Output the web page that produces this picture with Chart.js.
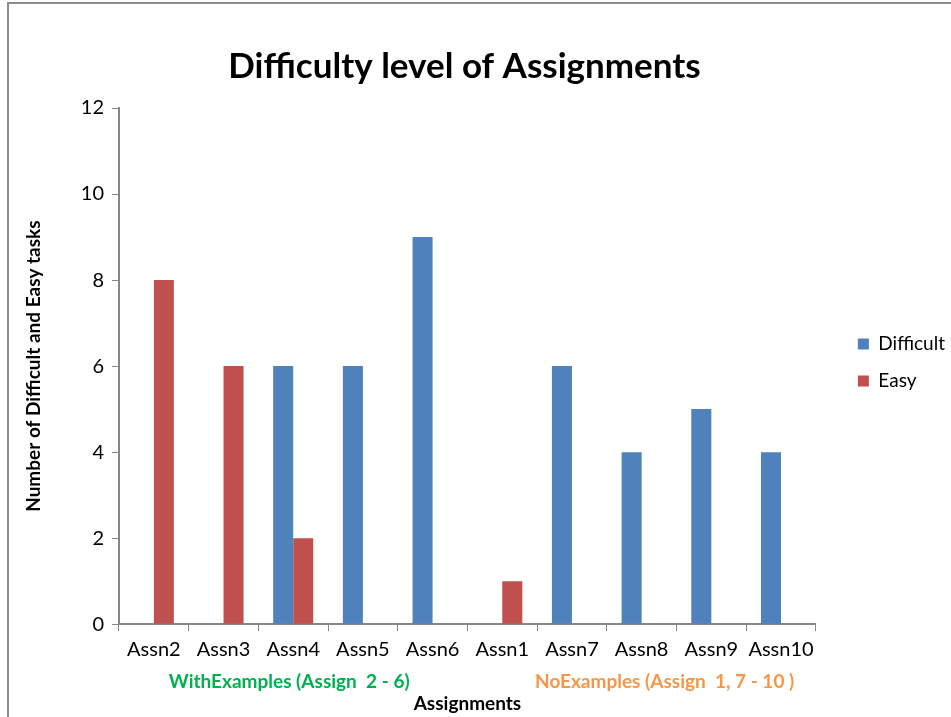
<!DOCTYPE html>
<html>
<head>
<meta charset="utf-8">
<script src="https://cdn.jsdelivr.net/npm/chart.js@4.4.0/dist/chart.umd.min.js"></script>
<style>
  body { margin: 0; background: #fff; }
  canvas { display: block; }
</style>
</head>
<body>
<canvas id="myChart" width="951" height="717"></canvas>
<script>
const categorias = ['Assn2', 'Assn3', 'Assn4', 'Assn5', 'Assn6', 'Assn1', 'Assn7', 'Assn8', 'Assn9', 'Assn10'];
const dificiles = [0, 0, 6, 6, 9, 0, 6, 4, 5, 4];
const faciles = [8, 6, 2, 0, 0, 1, 0, 0, 0, 0];
const ticksY = [0, 2, 4, 6, 8, 10, 12];
const grupos = [
  { texto: 'WithExamples (Assign  2 - 6)', desde: 0, hasta: 4, color: '#00b050', dx: -4 },
  { texto: 'NoExamples (Assign  1, 7 - 10 )', desde: 5, hasta: 9, color: '#f79646', dx: 23 }
];

const fuente = "Lato, 'Open Sans', sans-serif";
const gris = '#868686';

// marco, leyenda y titulo algo desplazados, etiquetas de grupo
const extras = {
  id: 'extras',
  afterLayout(chart) {
    chart.legend.left += 24;
    chart.legend.right += 24;
    chart.legend.top += 5;
    chart.legend.bottom += 5;
    chart.titleBlock.left -= 12;
    chart.titleBlock.right -= 12;
  },
  afterDraw(chart) {
    const ctx = chart.ctx;
    const x = chart.scales.x;
    const area = chart.chartArea;
    ctx.save();
    ctx.strokeStyle = '#8c8c8c';
    ctx.lineWidth = 2;
    ctx.beginPath();
    ctx.moveTo(951, 3);
    ctx.lineTo(8, 3);
    ctx.lineTo(8, 717);
    ctx.stroke();
    ctx.font = 'bold 19px ' + fuente;
    ctx.textAlign = 'center';
    ctx.textBaseline = 'middle';
    grupos.forEach(g => {
      const cx = (x.getPixelForValue(g.desde) + x.getPixelForValue(g.hasta)) / 2 + g.dx;
      ctx.fillStyle = g.color;
      ctx.fillText(g.texto, cx, area.bottom + 58);
    });
    ctx.restore();
  }
};

new Chart(document.getElementById('myChart'), {
  type: 'bar',
  data: {
    labels: categorias,
    datasets: [
      { label: 'Difficult', data: dificiles, backgroundColor: '#4f81bd' },
      { label: 'Easy', data: faciles, backgroundColor: '#c0504d' }
    ]
  },
  options: {
    responsive: false,
    animation: false,
    datasets: { bar: { categoryPercentage: 0.575, barPercentage: 1 } },
    layout: { padding: { left: 22, right: 20, top: 0, bottom: 2 } },
    plugins: {
      title: {
        display: true,
        text: 'Difficulty level of Assignments',
        color: '#000',
        font: { family: fuente, size: 35, weight: 'bold' },
        padding: { top: 46, bottom: 20 }
      },
      legend: {
        position: 'right',
        labels: {
          color: '#000',
          font: { family: fuente, size: 19 },
          boxWidth: 11,
          boxHeight: 11,
          padding: 18
        }
      },
      tooltip: { enabled: false }
    },
    scales: {
      x: {
        grid: { drawOnChartArea: false, color: gris, tickLength: 7, offset: true },
        border: { color: gris, width: 2 },
        ticks: { color: '#000', font: { family: fuente, size: 20 }, padding: 6, maxRotation: 0 },
        title: {
          display: true,
          text: 'Assignments',
          color: '#000',
          font: { family: fuente, size: 19, weight: 'bold' },
          padding: { top: 25, bottom: 0 }
        }
      },
      y: {
        min: 0,
        max: 12,
        afterBuildTicks: axis => { axis.ticks = ticksY.map(v => ({ value: v })); },
        grid: { drawOnChartArea: false, color: gris, tickLength: 7 },
        border: { color: gris, width: 2 },
        ticks: { color: '#000', font: { family: fuente, size: 20 }, padding: 8 },
        title: {
          display: true,
          text: 'Number of Difficult and Easy tasks',
          color: '#000',
          font: { family: fuente, size: 19, weight: 'bold' },
          padding: { top: 0, bottom: 28 }
        }
      }
    }
  },
  plugins: [extras]
});
</script>
</body>
</html>
